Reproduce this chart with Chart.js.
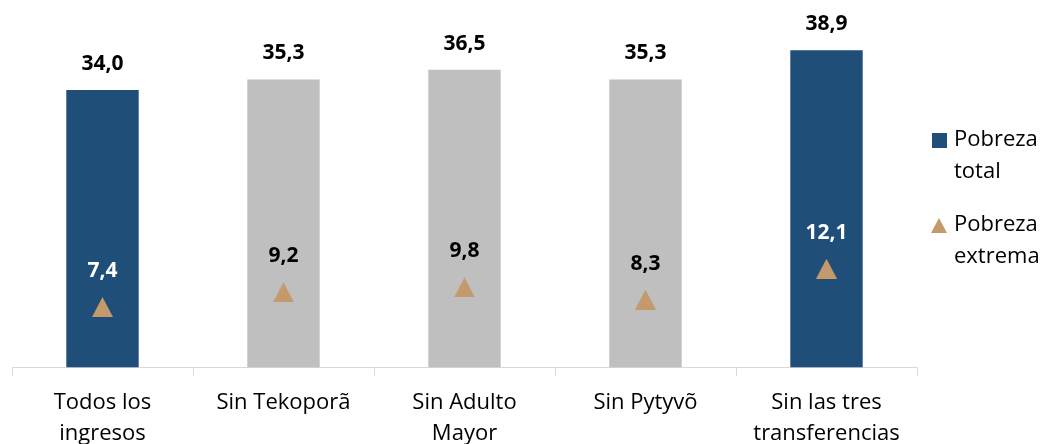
<!DOCTYPE html>
<html>
<head>
<meta charset="utf-8">
<script src="https://cdn.jsdelivr.net/npm/chart.js@4"></script>
<style>
  body { margin: 0; background: #fff; }
  #wrap { width: 1043px; height: 444px; position: relative; }
</style>
</head>
<body>
<div id="wrap"><canvas id="myChart"></canvas></div>
<script>
// data
const categories = [['Todos los', 'ingresos'], 'Sin Tekoporã', ['Sin Adulto', 'Mayor'], 'Sin Pytyvõ', ['Sin las tres', 'transferencias']];
const pobrezaTotal = [34.0, 35.3, 36.5, 35.3, 38.9];
const pobrezaExtrema = [7.4, 9.2, 9.8, 8.3, 12.1];
const seriesNames = [['Pobreza', 'total'], ['Pobreza', 'extrema']];

const BLUE = '#1f4e79', GREY = '#bfbfbf', TAN = '#c49a6c';
const FONT = "'Open Sans', sans-serif";
const barColors = [BLUE, GREY, GREY, GREY, BLUE];

// triangle marker centered on its box
function makeTriangle(w, h) {
  let c = document.createElement('canvas');
  c.width = w; c.height = h;
  let g = c.getContext('2d');
  g.fillStyle = TAN;
  g.beginPath();
  g.moveTo(w / 2, 0);
  g.lineTo(w, h);
  g.lineTo(0, h);
  g.closePath();
  g.fill();
  return c;
}
const tri = makeTriangle(21, 20);

function fmt(v) { return v.toFixed(1).replace('.', ','); }

const valueLabels = {
  id: 'valueLabels',
  afterDatasetsDraw(chart) {
    let ctx = chart.ctx;
    ctx.save();
    ctx.textAlign = 'center';
    ctx.textBaseline = 'middle';
    ctx.font = 'bold 21px ' + FONT;
    chart.getDatasetMeta(0).data.forEach((bar, i) => {
      ctx.fillStyle = '#000';
      ctx.fillText(fmt(pobrezaTotal[i]), bar.x, bar.y - 26);
    });
    chart.getDatasetMeta(1).data.forEach((pt, i) => {
      ctx.fillStyle = barColors[i] === BLUE ? '#fff' : '#000';
      ctx.fillText(fmt(pobrezaExtrema[i]), pt.x, pt.y - 36);
    });
    ctx.restore();
  }
};

const sideLegend = {
  id: 'sideLegend',
  afterDraw(chart) {
    let ctx = chart.ctx;
    ctx.save();
    ctx.font = '22px ' + FONT;
    ctx.textBaseline = 'middle';
    ctx.textAlign = 'left';
    // total
    ctx.fillStyle = BLUE;
    ctx.fillRect(932, 133, 15, 15);
    ctx.fillStyle = '#000';
    ctx.fillText(seriesNames[0][0], 954, 140);
    ctx.fillText(seriesNames[0][1], 954, 172);
    // extrema
    ctx.drawImage(makeTriangle(16, 15), 931, 218);
    ctx.fillText(seriesNames[1][0], 954, 225);
    ctx.fillText(seriesNames[1][1], 954, 257);
    ctx.restore();
  }
};

let ctx = document.getElementById('myChart').getContext('2d');
let chart = new Chart(ctx, {
  type: 'bar',
  data: {
    labels: categories,
    datasets: [{
      label: 'Pobreza total',
      data: pobrezaTotal,
      backgroundColor: barColors,
      barPercentage: 0.4,
      categoryPercentage: 1,
      order: 2
    }, {
      type: 'line',
      label: 'Pobreza extrema',
      data: pobrezaExtrema,
      showLine: false,
      pointStyle: tri,
      pointRadius: 10,
      order: 1
    }]
  },
  options: {
    responsive: true,
    maintainAspectRatio: false,
    animation: false,
    layout: { padding: { left: 12, right: 126, top: 0, bottom: -16 } },
    plugins: { legend: { display: false }, tooltip: { enabled: false } },
    scales: {
      y: { display: false, min: 0, max: 43.7 },
      x: {
        offset: true,
        border: { color: '#d9d9d9', width: 1 },
        grid: { drawOnChartArea: false, color: '#d9d9d9', tickLength: 9, offset: true },
        ticks: { color: '#000', padding: 11, maxRotation: 0, font: { family: FONT, size: 22, lineHeight: 1.4 } }
      }
    }
  },
  plugins: [valueLabels, sideLegend]
});
</script>
</body>
</html>
